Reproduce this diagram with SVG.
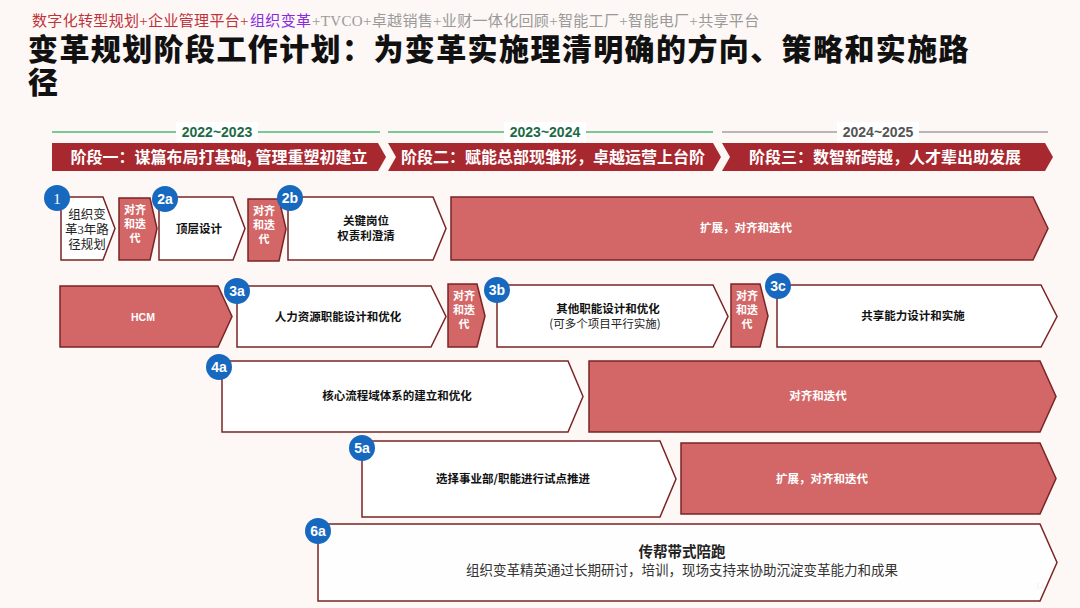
<svg xmlns="http://www.w3.org/2000/svg" width="1080" height="608" viewBox="0 0 1080 608">
<defs>
<style>
.bg{fill:#fdf7f5}
.wn{fill:#ffffff;stroke:#7a2424;stroke-width:1.5}
.rn{fill:#d36767;stroke:#7a2424;stroke-width:1.5}
.ph{fill:#a8282f}
.bd{fill:#1769bf}
.bt{font-family:"Liberation Sans","Noto Sans CJK SC",sans-serif;font-weight:bold;font-size:14px;fill:#fff;text-anchor:middle}
.nt{font-family:"Noto Sans CJK SC",sans-serif;font-weight:bold;font-size:11.5px;fill:#111;text-anchor:middle}
.wt{font-family:"Noto Sans CJK SC",sans-serif;font-weight:bold;font-size:11.5px;fill:#fff;text-anchor:middle}
.st{font-family:"Noto Sans CJK SC",sans-serif;font-weight:bold;font-size:11px;fill:#fff;text-anchor:middle}
.pt{font-family:"Noto Sans CJK SC",sans-serif;font-weight:bold;font-size:16px;fill:#fff;text-anchor:middle}
.yr{font-family:"Liberation Sans",sans-serif;font-weight:bold;font-size:14px;text-anchor:middle}
.sf{font-family:"Liberation Serif","Noto Sans CJK SC",serif}
.hd{font-family:"Liberation Serif","Noto Sans CJK SC",serif;font-size:15px;letter-spacing:0.33px}
.tt{font-family:"Noto Sans CJK SC",sans-serif;font-weight:900;font-size:30px;fill:#111}
</style>
</defs>
<rect class="bg" x="0" y="0" width="1080" height="608"/>

<g id="header">
<text x="32" y="26" class="hd" fill="#c0323a">数字化转型规划+企业管理平台+</text>
<text x="250" y="26" class="hd" fill="#8a2be2">组织变革</text>
<text x="312" y="26" class="hd" fill="#9a9a9a">+TVCO+卓越销售+业财一体化回顾+智能工厂+智能电厂+共享平台</text>
<text x="28" y="60" class="tt" letter-spacing="1.4">变革规划阶段工作计划：为变革实施理清明确的方向、策略和实施路</text>
<text x="28" y="93" class="tt">径</text>
</g>

<g id="timeline">
<line x1="52" y1="132" x2="380" y2="132" stroke="#4cb87a" stroke-width="1.5"/>
<rect x="176" y="122" width="82" height="20" fill="#fff"/>
<text x="217" y="137" class="yr" fill="#1d6b45">2022~2023</text>
<line x1="388" y1="132" x2="713" y2="132" stroke="#4cb87a" stroke-width="1.5"/>
<rect x="504" y="122" width="82" height="20" fill="#fff"/>
<text x="545" y="137" class="yr" fill="#1d6b45">2023~2024</text>
<line x1="722" y1="132" x2="1048" y2="132" stroke="#a0a0a0" stroke-width="1.5"/>
<rect x="837" y="122" width="82" height="20" fill="#fff"/>
<text x="878" y="137" class="yr" fill="#555">2024~2025</text>
</g>

<g id="phase1">
<polygon class="ph" points="52,143 378,143 386,157 378,171 52,171"/>
<text x="219" y="163" class="pt">阶段一：谋篇布局打基础, 管理重塑初建立</text>
</g>
<g id="phase2">
<polygon class="ph" points="388,143 713,143 721,157 713,171 388,171 396,157"/>
<text x="553" y="163" class="pt">阶段二：赋能总部现雏形，卓越运营上台阶</text>
</g>
<g id="phase3">
<polygon class="ph" points="722,143 1045,143 1053,157 1045,171 722,171 730,157"/>
<text x="885" y="163" class="pt">阶段三：数智新跨越，人才辈出助发展</text>
</g>

<g id="connectors"></g>

<!-- Row 1 -->
<g id="n1">
<polygon class="wn" points="61,197 103,197 115,228.5 103,260 61,260"/>
<text class="sf" font-size="12.5" fill="#222" text-anchor="middle"><tspan x="87" y="219">组织变</tspan><tspan x="87" y="234">革3年路</tspan><tspan x="87" y="249">径规划</tspan></text>
<circle class="bd" cx="57" cy="198" r="13"/>
<text x="57" y="203.5" class="sf" font-size="15" fill="#fff" text-anchor="middle">1</text>
</g>
<g id="r1">
<polygon class="rn" points="119,198 150,198 157,228.5 150,260 119,260"/>
<text class="st"><tspan x="135" y="214">对齐</tspan><tspan x="135" y="228">和迭</tspan><tspan x="135" y="242">代</tspan></text>
</g>
<g id="n2a">
<polygon class="wn" points="159,197 233,197 245,228.5 233,260 159,260"/>
<text x="199" y="233" class="nt">顶层设计</text>
<circle class="bd" cx="165" cy="199" r="13"/>
<text x="165" y="204" class="bt">2a</text>
</g>
<g id="r2">
<polygon class="rn" points="248,199 279,199 286,229 279,261 248,261"/>
<text class="st"><tspan x="264" y="215">对齐</tspan><tspan x="264" y="229">和迭</tspan><tspan x="264" y="243">代</tspan></text>
</g>
<g id="n2b">
<polygon class="wn" points="288,197 433,197 446,228.5 433,260 288,260"/>
<text class="nt"><tspan x="366" y="225">关键岗位</tspan><tspan x="366" y="240">权责利澄清</tspan></text>
<circle class="bd" cx="290" cy="198" r="13"/>
<text x="290" y="203" class="bt">2b</text>
</g>
<g id="r1big">
<polygon class="rn" points="451,197 1033,197 1048,228.5 1033,260 451,260"/>
<text x="746" y="232" class="wt">扩展，对齐和迭代</text>
</g>

<!-- Row 2 -->
<g id="hcm">
<polygon class="rn" points="60,286 218,286 232,316.5 218,347 60,347"/>
<text x="143" y="320.5" font-family="'Liberation Sans',sans-serif" font-weight="bold" font-size="10.5" fill="#fff" text-anchor="middle">HCM</text>
</g>
<g id="n3a">
<polygon class="wn" points="237,286 431,286 446,316.5 431,347 237,347"/>
<text x="338" y="321" class="nt">人力资源职能设计和优化</text>
<circle class="bd" cx="237" cy="291" r="13"/>
<text x="237" y="296" class="bt">3a</text>
</g>
<g id="r3">
<polygon class="rn" points="448,284 477,284 485,316 477,347 448,347"/>
<text class="st"><tspan x="464" y="300">对齐</tspan><tspan x="464" y="314">和迭</tspan><tspan x="464" y="328">代</tspan></text>
</g>
<g id="n3b">
<polygon class="wn" points="497,285 713,285 728,316.5 713,347 497,347"/>
<text x="608" y="313" class="nt">其他职能设计和优化</text>
<text x="605" y="328" font-family="'Noto Sans CJK SC',sans-serif" font-size="11.5" fill="#222" text-anchor="middle">(可多个项目平行实施)</text>
<circle class="bd" cx="497" cy="290" r="13"/>
<text x="497" y="295" class="bt">3b</text>
</g>
<g id="r4">
<polygon class="rn" points="731,284 760,284 768,316 760,347 731,347"/>
<text class="st"><tspan x="747" y="300">对齐</tspan><tspan x="747" y="314">和迭</tspan><tspan x="747" y="328">代</tspan></text>
</g>
<g id="n3c">
<polygon class="wn" points="777,285 1041,285 1057,316.5 1041,347 777,347"/>
<text x="913" y="320" class="nt">共享能力设计和实施</text>
<circle class="bd" cx="778" cy="286" r="13"/>
<text x="778" y="291" class="bt">3c</text>
</g>

<!-- Row 3 -->
<g id="n4a">
<polygon class="wn" points="222,361 568,361 583,396.5 568,432 222,432"/>
<text x="397" y="400" class="nt">核心流程域体系的建立和优化</text>
<circle class="bd" cx="219" cy="367" r="13"/>
<text x="219" y="372" class="bt">4a</text>
</g>
<g id="r4a">
<polygon class="rn" points="589,361 1040,361 1056,396.5 1040,432 589,432"/>
<text x="818" y="400" class="wt">对齐和迭代</text>
</g>

<!-- Row 4 -->
<g id="n5a">
<polygon class="wn" points="362,441 660,441 676,479 660,517 362,517"/>
<text x="513" y="483" class="nt">选择事业部/职能进行试点推进</text>
<circle class="bd" cx="362" cy="448" r="13"/>
<text x="362" y="453" class="bt">5a</text>
</g>
<g id="r5a">
<polygon class="rn" points="681,443 1040,443 1056,478.5 1040,514 681,514"/>
<text x="822" y="483" class="wt">扩展，对齐和迭代</text>
</g>

<!-- Row 5 -->
<text x="1040" y="589" class="sf" font-size="9" fill="#888" text-anchor="middle">14</text>
<g id="n6a">
<polygon class="wn" points="318,524 1040,524 1057,562.5 1040,601 318,601" fill-opacity="0.85"/>
<text x="682" y="557" class="sf" font-size="14.5" font-weight="bold" fill="#222" text-anchor="middle">传帮带式陪跑</text>
<text x="682" y="575" class="sf" font-size="13.5" fill="#333" text-anchor="middle">组织变革精英通过长期研讨，培训，现场支持来协助沉淀变革能力和成果</text>
<circle class="bd" cx="318" cy="531" r="13"/>
<text x="318" y="536" class="bt">6a</text>
</g>
</svg>
